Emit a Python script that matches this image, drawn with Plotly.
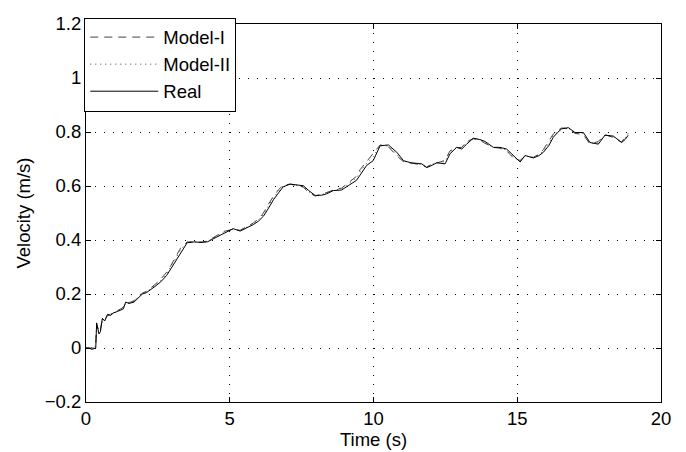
import plotly.graph_objects as go

# Time samples (s)
time = [0.0, 0.1, 0.2, 0.3, 0.34, 0.37, 0.41, 0.45, 0.5, 0.57, 0.65, 0.75, 0.85, 0.95,
        1.09, 1.21, 1.3, 1.38, 1.5, 1.67, 1.8, 1.96, 2.1, 2.25, 2.4, 2.6, 2.8, 2.95,
        3.1, 3.29, 3.52, 3.76, 4.0, 4.22, 4.51, 4.8, 5.12, 5.36, 5.6, 5.82, 6.0,
        6.17, 6.35, 6.52, 6.7, 6.86, 7.1, 7.3, 7.56, 7.75, 7.97, 8.2, 8.37, 8.6,
        8.89, 9.12, 9.41, 9.53, 9.76, 9.99, 10.23, 10.52, 10.81, 11.04, 11.3,
        11.68, 11.85, 12.0, 12.2, 12.49, 12.66, 12.89, 13.07, 13.24, 13.47, 13.7,
        13.88, 14.17, 14.4, 14.63, 14.75, 14.9, 15.1, 15.27, 15.56, 15.75, 15.91,
        16.1, 16.25, 16.4, 16.55, 16.78, 17.01, 17.3, 17.53, 17.82, 18.05, 18.34,
        18.63, 18.75, 18.86]

# Measured velocity (m/s)
real = [0.0, 0.0, -0.005, 0.0, 0.0, 0.093, 0.07, 0.052, 0.06, 0.11, 0.10, 0.125,
        0.12, 0.13, 0.135, 0.14, 0.145, 0.17, 0.165, 0.17, 0.185, 0.20, 0.205,
        0.215, 0.228, 0.245, 0.268, 0.293, 0.32, 0.354, 0.39, 0.393, 0.391, 0.393,
        0.409, 0.427, 0.442, 0.433, 0.445, 0.457, 0.47, 0.488, 0.518, 0.549,
        0.575, 0.597, 0.607, 0.605, 0.601, 0.583, 0.565, 0.566, 0.571, 0.583,
        0.585, 0.601, 0.621, 0.64, 0.676, 0.694, 0.749, 0.752, 0.725, 0.694,
        0.686, 0.682, 0.668, 0.675, 0.686, 0.682, 0.719, 0.743, 0.737, 0.755,
        0.777, 0.772, 0.765, 0.743, 0.743, 0.737, 0.725, 0.71, 0.689, 0.713,
        0.704, 0.712, 0.725, 0.75, 0.78, 0.798, 0.812, 0.816, 0.798, 0.798,
        0.761, 0.755, 0.788, 0.785, 0.761, 0.772, 0.788]

# Model-I predicted velocity (m/s)
model_1 = [0.0, 0.0, 0.0, 0.0, 0.02, 0.085, 0.075, 0.06, 0.07, 0.105, 0.105, 0.12,
           0.125, 0.13, 0.138, 0.145, 0.152, 0.165, 0.168, 0.175, 0.19, 0.203,
           0.21, 0.222, 0.235, 0.255, 0.28, 0.305, 0.335, 0.37, 0.393, 0.392, 0.392,
           0.396, 0.415, 0.432, 0.44, 0.436, 0.45, 0.463, 0.478, 0.5, 0.533,
           0.562, 0.587, 0.603, 0.607, 0.603, 0.596, 0.575, 0.563, 0.569, 0.576,
           0.585, 0.592, 0.61, 0.636, 0.66, 0.69, 0.72, 0.752, 0.745, 0.712,
           0.69, 0.684, 0.678, 0.67, 0.68, 0.685, 0.695, 0.73, 0.742, 0.743, 0.765,
           0.775, 0.77, 0.758, 0.743, 0.74, 0.73, 0.717, 0.7, 0.695, 0.71, 0.706,
           0.718, 0.735, 0.765, 0.792, 0.806, 0.815, 0.812, 0.795, 0.79, 0.755,
           0.765, 0.79, 0.78, 0.762, 0.782, 0.795]

# Model-II predicted velocity (m/s)
model_2 = [0.0, 0.0, 0.0, 0.0, 0.015, 0.088, 0.072, 0.056, 0.065, 0.108, 0.103,
           0.122, 0.123, 0.13, 0.137, 0.143, 0.15, 0.167, 0.167, 0.173, 0.188,
           0.202, 0.208, 0.219, 0.232, 0.25, 0.275, 0.3, 0.328, 0.363, 0.392,
           0.393, 0.392, 0.395, 0.412, 0.43, 0.441, 0.435, 0.448, 0.46, 0.475,
           0.495, 0.527, 0.557, 0.582, 0.601, 0.607, 0.604, 0.598, 0.579, 0.564,
           0.568, 0.574, 0.584, 0.589, 0.606, 0.63, 0.652, 0.684, 0.708, 0.751,
           0.748, 0.718, 0.692, 0.685, 0.68, 0.669, 0.678, 0.686, 0.69, 0.726,
           0.743, 0.741, 0.761, 0.776, 0.771, 0.761, 0.743, 0.742, 0.733, 0.72,
           0.704, 0.692, 0.712, 0.705, 0.715, 0.73, 0.758, 0.787, 0.803, 0.814,
           0.814, 0.797, 0.794, 0.758, 0.76, 0.789, 0.783, 0.762, 0.777, 0.792]

x_ticks = [0, 5, 10, 15, 20]
y_ticks = [-0.2, 0, 0.2, 0.4, 0.6, 0.8, 1.0, 1.2]
y_tick_text = ["\u22120.2", "0", "0.2", "0.4", "0.6", "0.8", "1", "1.2"]

fig = go.Figure()
fig.add_trace(go.Scatter(x=time, y=model_1, mode="lines", name="Model-I",
                         line=dict(color="#444444", width=1, dash="8px,6px")))
fig.add_trace(go.Scatter(x=time, y=model_2, mode="lines", name="Model-II",
                         line=dict(color="#444444", width=1, dash="1px,4px")))
fig.add_trace(go.Scatter(x=time, y=real, mode="lines", name="Real",
                         line=dict(color="black", width=1)))

fam = "Liberation Sans, Arial, sans-serif"
font = dict(family=fam, size=18.5, color="black")

# page body adds an 8px offset, so the figure is sized 678x444
fig.update_layout(
    width=678, height=444,
    margin=dict(l=78, r=25, t=10, b=50),
    paper_bgcolor="white", plot_bgcolor="white",
    font=font,
    showlegend=True,
    legend=dict(x=-0.003, y=1.017, xanchor="left", yanchor="top",
                bgcolor="white", bordercolor="black", borderwidth=1,
                font=dict(family=fam, size=18.5, color="black"),
                tracegroupgap=0, itemwidth=68),
)
axis_common = dict(showline=True, linecolor="black", linewidth=1, mirror="ticks",
                   ticks="inside", ticklen=5, tickcolor="black", showgrid=True,
                   gridcolor="black", gridwidth=1, griddash="1px,8px",
                   zeroline=False, automargin=False, tickfont=font)
fig.update_xaxes(range=[0, 20], tickvals=x_ticks,
                 title=dict(text="Time (s)", standoff=3, font=font), **axis_common)
fig.update_yaxes(range=[-0.2, 1.2], tickvals=y_ticks, ticktext=y_tick_text,
                 title=dict(text="Velocity (m/s)", standoff=9, font=font), **axis_common)

fig.write_html("out.html")
